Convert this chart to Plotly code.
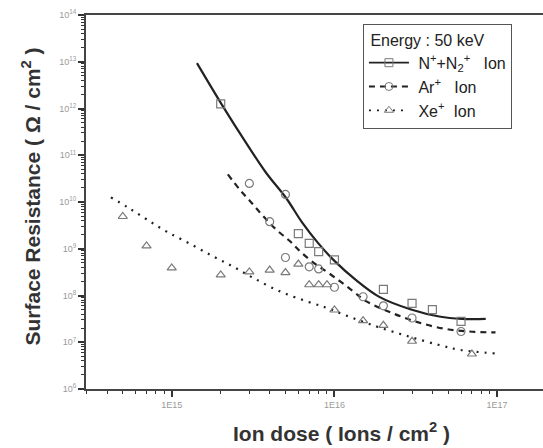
import plotly.graph_objects as go

# Measured sheet resistance after ion implantation (50 keV)
n_dose = [2e15, 6e15, 7e15, 8e15, 1e16, 2e16, 3e16, 4e16, 6e16]
n_res = [1.25e12, 2.1e9, 1.3e9, 8.7e8, 5.8e8, 1.35e8, 6.8e7, 5.0e7, 2.8e7]

ar_dose = [3e15, 5e15, 4e15, 5e15, 7e15, 8e15, 1e16, 1.5e16, 2e16, 3e16, 6e16]
ar_res = [2.5e10, 1.45e10, 3.8e9, 6.5e8, 4.1e8, 3.7e8, 1.5e8, 9.4e7, 6.0e7, 3.3e7, 1.7e7]

xe_dose = [5e14, 7e14, 1e15, 2e15, 3e15, 4e15, 5e15, 6e15, 7e15, 8e15, 9e15,
           1e16, 1.5e16, 2e16, 3e16, 7e16]
xe_res = [4.9e9, 1.15e9, 3.9e8, 2.75e8, 3.2e8, 3.5e8, 3.1e8, 4.7e8, 1.7e8, 1.7e8, 1.7e8,
          4.9e7, 2.9e7, 2.3e7, 1.05e7, 5.6e6]

# Fitted trend curves (log10 dose, log10 resistance)
n_fit_logx = [15.155, 15.305, 15.458, 15.581, 15.704, 15.80, 15.90, 16.0, 16.133,
              16.276, 16.471, 16.644, 16.785, 16.93]
n_fit_logy = [12.97, 12.10, 11.26, 10.62, 10.08, 9.57, 9.12, 8.74, 8.33,
              7.97, 7.70, 7.55, 7.50, 7.50]

ar_fit_logx = [15.345, 15.417, 15.489, 15.556, 15.642, 15.724, 15.796, 15.888, 15.969,
               16.112, 16.194, 16.358, 16.511, 16.675, 16.828, 16.99]
ar_fit_logy = [10.59, 10.27, 9.99, 9.72, 9.41, 9.17, 8.92, 8.66, 8.47,
               8.10, 7.88, 7.62, 7.43, 7.29, 7.23, 7.21]

xe_fit_logx = [14.626, 14.732, 14.845, 14.967, 15.110, 15.253, 15.376, 15.499, 15.663,
               15.826, 15.949, 16.051, 16.256, 16.46, 16.644, 16.767, 16.99]
xe_fit_logy = [10.10, 9.88, 9.63, 9.37, 9.11, 8.84, 8.62, 8.38, 8.09,
               7.88, 7.74, 7.60, 7.34, 7.12, 6.94, 6.84, 6.76]

x_tick_vals = [1e15, 1e16, 1e17]
x_tick_text = ["1E15", "1E16", "1E17"]
y_exponents = [6, 7, 8, 9, 10, 11, 12, 13, 14]

LINE = "#222222"
MARK = "#7a7a7a"
FAMILY = "Liberation Sans, Arial, sans-serif"
TICKFONT = dict(family=FAMILY, size=9, color="#9a9a9a")
TITLEFONT = dict(family=FAMILY, size=21, color="#333333")

fig = go.Figure()

def pow10(vals):
    return [10 ** v for v in vals]

series = [
    ("\u00a0N<sup>+</sup>+N<sub>2</sub><sup>+</sup>\u00a0\u00a0 Ion", n_dose, n_res,
     n_fit_logx, n_fit_logy, "square-open", "solid", 2.2),
    ("\u00a0Ar<sup>+</sup>\u00a0\u00a0 Ion", ar_dose, ar_res,
     ar_fit_logx, ar_fit_logy, "circle-open", "6px,5px", 2.2),
    ("\u00a0Xe<sup>+</sup>\u00a0 Ion", xe_dose, xe_res,
     xe_fit_logx, xe_fit_logy, "triangle-up-open", "2px,6px", 2.2),
]

for name, dx, dy, fx, fy, sym, dash, lw in series:
    fig.add_trace(go.Scatter(
        x=pow10(fx), y=pow10(fy), mode="lines", line_shape="spline",
        line=dict(color=LINE, width=lw, dash=dash), showlegend=False, hoverinfo="skip"))
    fig.add_trace(go.Scatter(
        x=dx, y=dy, mode="markers", showlegend=False,
        marker=dict(symbol=sym, size=8, color=MARK, line=dict(color=MARK, width=1.2))))
    # legend entry: line with marker
    fig.add_trace(go.Scatter(
        x=[None], y=[None], mode="lines+markers", name=name,
        line=dict(color=LINE, width=1.8, dash=dash),
        marker=dict(symbol=sym, size=8, color=MARK, line=dict(color=LINE, width=1))))

minor_x = [k * 10 ** e for e in (14, 15, 16) for k in range(2, 10) if 2.9e14 < k * 10 ** e < 1.9e17]
minor_y = [k * 10 ** e for e in range(6, 14) for k in range(2, 10)]

fig.update_layout(
    width=543, height=448,
    margin=dict(l=86, r=0, t=15, b=59),
    paper_bgcolor="white", plot_bgcolor="white",
    font=dict(family=FAMILY),
    legend=dict(
        x=0.606, y=0.976, xanchor="left", yanchor="top",
        bgcolor="white", bordercolor="#555555", borderwidth=1,
        font=dict(size=16, color="#222222"),
        title=dict(text="\u00a0Energy : 50 keV", font=dict(size=16, color="#222222")),
        tracegroupgap=3, itemwidth=40,
    ),
    xaxis=dict(
        type="log", range=[14.473, 17.282],
        tickvals=x_tick_vals, ticktext=x_tick_text, tickfont=TICKFONT,
        ticks="outside", ticklen=6, tickwidth=1.5, tickcolor="#333333",
        minor=dict(tickvals=minor_x, ticks="outside", ticklen=3, tickwidth=1, tickcolor="#333333"),
        showline=True, linecolor="#444444", linewidth=2, mirror=True,
        showgrid=False, zeroline=False,
    ),
    yaxis=dict(
        type="log", range=[6, 14],
        tickvals=[10 ** e for e in y_exponents],
        ticktext=["10<sup>%d</sup>" % e for e in y_exponents], tickfont=TICKFONT,
        ticks="outside", ticklen=6, tickwidth=1.5, tickcolor="#333333",
        minor=dict(tickvals=minor_y, ticks="outside", ticklen=3, tickwidth=1, tickcolor="#333333"),
        showline=True, linecolor="#444444", linewidth=2,
        showgrid=False, zeroline=False,
    ),
)

fig.add_annotation(
    text="<b>Ion dose ( Ions / cm<sup>2</sup> )</b>", xref="paper", yref="paper",
    x=0.56, y=-0.115, xanchor="center", yanchor="middle", showarrow=False, font=TITLEFONT)
fig.add_annotation(
    text="<b>Surface Resistance ( Ω / cm<sup>2</sup> )</b>", xref="paper", yref="paper",
    x=-0.12, y=0.515, xanchor="center", yanchor="middle", textangle=-90, showarrow=False,
    font=TITLEFONT)

fig.write_html("out.html")
